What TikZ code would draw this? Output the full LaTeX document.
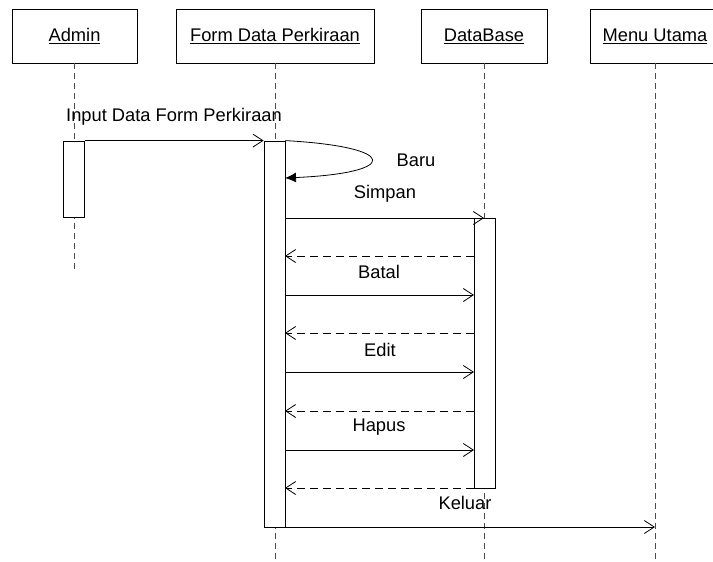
\documentclass[tikz,border=0pt]{standalone}
\usepackage{fontspec}
\setmainfont{Liberation Sans}
\usetikzlibrary{arrows.meta}
\begin{document}
\begin{tikzpicture}[x=1pt,y=-1pt,
  obj/.style={draw, line width=0.8pt, minimum height=54pt, inner sep=0pt, font=\fontsize{18.3}{20}\selectfont, fill=white},
  life/.style={draw=black!70, line width=0.9pt, dash pattern=on 6pt off 4pt},
  act/.style={draw, fill=white, line width=0.8pt, minimum width=21pt, inner sep=0pt},
  msg/.style={line width=0.8pt, -{Straight Barb[length=10pt,width=13pt,line width=0.8pt]}},
  ret/.style={msg, dash pattern=on 8pt off 5pt},
  self/.style={line width=0.8pt, -{Latex[length=11pt,width=10pt]}},
  lbl/.style={font=\fontsize{18.3}{20}\selectfont, inner sep=0pt}
]
\useasboundingbox (0,0) rectangle (713,562);

% objects
\node[obj, minimum width=125pt] (admin) at (74.5,36) {\underline{Admin}};
\node[obj, minimum width=198pt] (form) at (275,36) {\underline{Form Data Perkiraan}};
\node[obj, minimum width=126pt] (db) at (484,36) {\underline{DataBase}};
\node[obj, minimum width=130pt] (menu) at (655,36) {\underline{Menu Utama}};

% lifeline ends
\coordinate (adminEnd) at (74.5,272);
\coordinate (formEnd) at (275,562);
\coordinate (dbEnd) at (484,562);
\coordinate (menuEnd) at (655,562);

\draw[life] (admin.south) -- (adminEnd);
\draw[life] (form.south) -- (formEnd);
\draw[life] (db.south) -- (dbEnd);
\draw[life] (menu.south) -- (menuEnd);

% activations
\node[act, minimum height=76pt] (aa) at (74,179) {};
\node[act, minimum height=386pt] (fa) at (274.5,334) {};
\node[act, minimum height=270pt] (da) at (484.5,353) {};

% message points
\coordinate (selfEnd) at (285,178);
\coordinate (simpanS) at (285,218);
\coordinate (simpanE) at (484,218);
\coordinate (r1S) at (474,256);   \coordinate (r1E) at (285,256);
\coordinate (batalS) at (285,295); \coordinate (batalE) at (474,295);
\coordinate (r2S) at (474,333);   \coordinate (r2E) at (285,333);
\coordinate (editS) at (285,372); \coordinate (editE) at (474,372);
\coordinate (r3S) at (474,411);   \coordinate (r3E) at (285,411);
\coordinate (hapusS) at (285,450); \coordinate (hapusE) at (474,450);
\coordinate (r4S) at (474,488);   \coordinate (r4E) at (285,488);
\coordinate (keluarS) at (285,527); \coordinate (keluarE) at (655,527);

% messages
\draw[msg] (aa.north east) -- (fa.north west);
\node[lbl] (lInput) at (174,117) {Input Data Form Perkiraan};

\draw[self] (fa.north east) .. controls (400,147) and (400,173) .. (selfEnd);
\node[lbl] (lBaru) at (416,160) {Baru};

\draw[msg] (simpanS) -- (simpanE);
\node[lbl] (lSimpan) at (385,194) {Simpan};

\draw[ret] (r1S) -- (r1E);
\draw[msg] (batalS) -- (batalE);
\node[lbl] (lBatal) at (379,272) {Batal};

\draw[ret] (r2S) -- (r2E);
\draw[msg] (editS) -- (editE);
\node[lbl] (lEdit) at (380,350) {Edit};

\draw[ret] (r3S) -- (r3E);
\draw[msg] (hapusS) -- (hapusE);
\node[lbl] (lHapus) at (379,427) {Hapus};

\draw[ret] (r4S) -- (r4E);
\draw[msg] (keluarS) -- (keluarE);
\node[lbl] (lKeluar) at (465,503) {Keluar};
\end{tikzpicture}
\end{document}
